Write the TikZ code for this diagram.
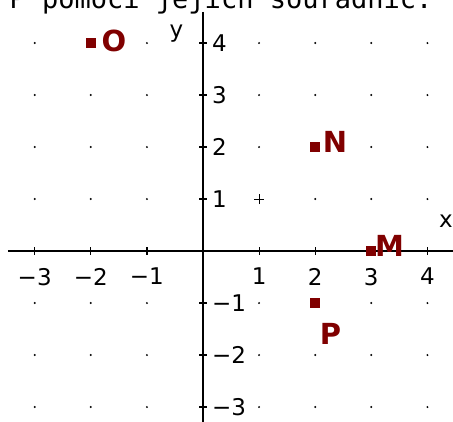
\documentclass[tikz,border=0pt]{standalone}
\usepackage{fontspec}
\setmainfont{DejaVu Sans}
\newfontfamily\monof{DejaVu Sans Mono}
\definecolor{ptred}{RGB}{128,0,0}
\begin{document}
\begin{tikzpicture}[x=1pt,y=-1pt,
  axisline/.style={line width=1.5pt, black},
  tickmark/.style={line width=1.2pt, black},
  ticklab/.style={font=\fontsize{23}{23}\selectfont, inner sep=0pt},
  ptmark/.style={rectangle, fill=ptred, draw=none, minimum size=10pt, inner sep=0pt},
  ptlab/.style={font=\fontsize{29}{29}\selectfont\bfseries, text=ptred, inner sep=0pt, anchor=base west},
  gdot/.style={circle, fill=black, inner sep=0pt, minimum size=2.2pt}]
\useasboundingbox (0,0) rectangle (453,421);
\clip (0,0) rectangle (453,421);
\fill[white] (0,0) rectangle (453,421);
\node[font=\monof\fontsize{27}{27}\selectfont, anchor=base west, inner sep=0pt] (title) at (9.5,8) {P pomocí jejich souřadnic.};
\node[ticklab, anchor=base west] (ylab) at (169.5,37.5) {y};
\node[ticklab, anchor=base west] (xlab) at (439,227) {x};
\begin{scope}[shift={(203,251)}, x=56.1pt, y=52pt]
  % grid dots
  \foreach \i in {-3,-2,-1,1,2,3,4}
    \foreach \j in {-3,-2,-1,2,3,4}
      \node[gdot] (d\i\j) at (\i,\j) {};
  \foreach \i in {-3,-2,-1,2,3,4}
    \node[gdot] (e\i) at (\i,1) {};
  % plus at (1,1)
  \coordinate (pc) at (1,1);
  \draw[line width=1pt] ([xshift=-5pt]pc) -- ([xshift=5pt]pc);
  \draw[line width=1pt] ([yshift=-5pt]pc) -- ([yshift=5pt]pc);
  % axes
  \coordinate (xa) at (-3.48,0);
  \coordinate (xb) at (4.7,0);
  \coordinate (ya) at (0,4.6);
  \coordinate (yb) at (0,-3.6);
  \draw[axisline] (xa) -- (xb);
  \draw[axisline] (ya) -- (yb);
  % x ticks and labels
  \foreach \i/\t in {-3/−3,-2/−2,-1/−1,1/1,2/2,3/3,4/4} {
    \coordinate (xt\i) at (\i,0);
    \draw[tickmark] ([yshift=4pt]xt\i) -- ([yshift=-4pt]xt\i);
    \node[ticklab, anchor=north] (xl\i) at ([yshift=-17pt]xt\i) {\t};
  }
  % y ticks and labels
  \foreach \j/\t in {-3/−3,-2/−2,-1/−1,1/1,2/2,3/3,4/4} {
    \coordinate (yt\j) at (0,\j);
    \draw[tickmark] ([xshift=-4pt]yt\j) -- ([xshift=4pt]yt\j);
    \node[ticklab, anchor=west] (yl\j) at ([xshift=9pt]yt\j) {\t};
  }
  % points
  \node[ptmark] (O) at (-2,4) {};
  \node[ptmark] (N) at (2,2) {};
  \node[ptmark] (M) at (3,0) {};
  \node[ptmark] (P) at (2,-1) {};
  \node[ptlab] (Olab) at ([xshift=10.5pt, yshift=-8pt]O.center) {O};
  \node[ptlab] (Nlab) at ([xshift=7.5pt, yshift=-5.5pt]N.center) {N};
  \node[ptlab] (Mlab) at ([xshift=3.5pt, yshift=-5.5pt]M.center) {M};
  \node[ptlab] (Plab) at ([xshift=4.5pt, yshift=-41pt]P.center) {P};
\end{scope}
\end{tikzpicture}
\end{document}
